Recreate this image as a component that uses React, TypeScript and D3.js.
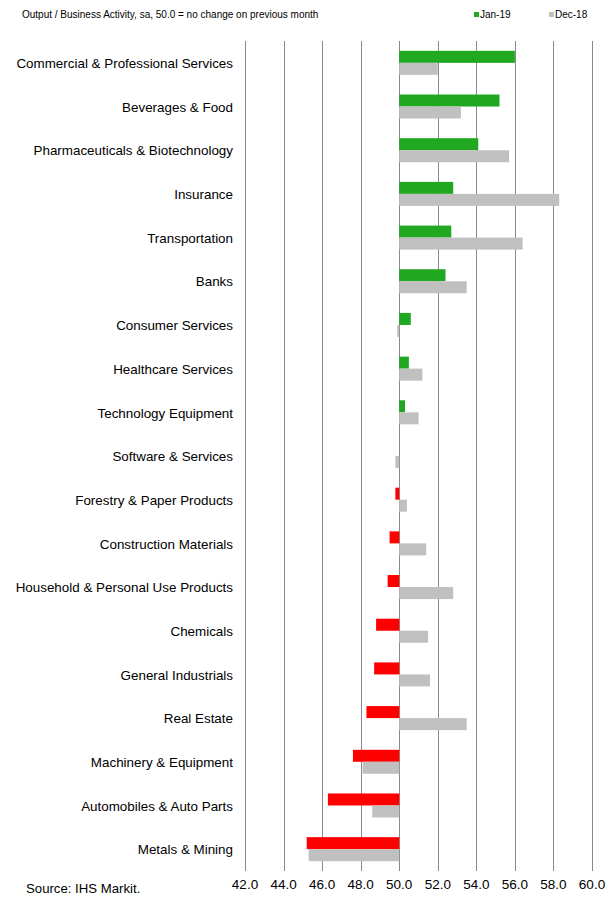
import { useEffect, useRef } from "react";
import * as d3 from "d3";

const categories = [
  "Commercial & Professional Services",
  "Beverages & Food",
  "Pharmaceuticals & Biotechnology",
  "Insurance",
  "Transportation",
  "Banks",
  "Consumer Services",
  "Healthcare Services",
  "Technology Equipment",
  "Software & Services",
  "Forestry & Paper Products",
  "Construction Materials",
  "Household & Personal Use Products",
  "Chemicals",
  "General Industrials",
  "Real Estate",
  "Machinery & Equipment",
  "Automobiles & Auto Parts",
  "Metals & Mining"
];

const jan19 = [56.0, 55.2, 54.1, 52.8, 52.7, 52.4, 50.6, 50.5, 50.3, 50.0, 49.8, 49.5, 49.4, 48.8, 48.7, 48.3, 47.6, 46.3, 45.2];
const dec18 = [52.0, 53.2, 55.7, 58.3, 56.4, 53.5, 49.9, 51.2, 51.0, 49.8, 50.4, 51.4, 52.8, 51.5, 51.6, 53.5, 48.1, 48.6, 45.3];

const xTicks = [42, 44, 46, 48, 50, 52, 54, 56, 58, 60];

const title = "Output / Business Activity, sa, 50.0 = no change on previous month";
const source = "Source: IHS Markit.";
const seriesNames = ["Jan-19", "Dec-18"];

const green = "#20a820";
const red = "#ff0000";
const grey = "#c0c0c0";
const font = "Arial, 'Liberation Sans', sans-serif";

export default function App() {
  const svgRef = useRef<SVGSVGElement>(null);

  useEffect(() => {
    const svg = d3.select(svgRef.current);
    svg.selectAll("*").remove();

    const width = 615;
    const height = 898;
    const margin = { top: 41, bottom: 27, left: 245, right: 23 };

    const x = d3.scaleLinear().domain([42, 60]).range([margin.left, width - margin.right]);
    const y = d3
      .scaleBand()
      .domain(categories)
      .range([margin.top, height - margin.bottom])
      .paddingInner(0.45)
      .paddingOuter(0.225);
    const sub = d3.scaleBand().domain(seriesNames).range([0, y.bandwidth()]);

    // grid
    svg
      .append("g")
      .attr("stroke", "#8a8a8a")
      .attr("stroke-width", 1)
      .selectAll("line")
      .data(xTicks)
      .join("line")
      .attr("x1", (d) => Math.round(x(d)) + 0.5)
      .attr("x2", (d) => Math.round(x(d)) + 0.5)
      .attr("y1", margin.top)
      .attr("y2", height - margin.bottom);

    // tick labels
    svg
      .append("g")
      .selectAll("text")
      .data(xTicks)
      .join("text")
      .attr("x", (d) => x(d))
      .attr("y", height - 9)
      .attr("text-anchor", "middle")
      .attr("font-family", font)
      .attr("font-size", 13.5)
      .attr("fill", "#000")
      .text((d) => d.toFixed(1));

    // bars
    const rows = categories.map((c, i) => ({ c, jan: jan19[i], dec: dec18[i] }));
    const g = svg.append("g");
    g.selectAll("rect.jan")
      .data(rows)
      .join("rect")
      .attr("class", "jan")
      .attr("x", (d) => x(Math.min(50, d.jan)))
      .attr("y", (d) => (y(d.c) ?? 0) + (sub("Jan-19") ?? 0))
      .attr("width", (d) => Math.abs(x(d.jan) - x(50)))
      .attr("height", sub.bandwidth())
      .attr("fill", (d) => (d.jan >= 50 ? green : red));
    g.selectAll("rect.dec")
      .data(rows)
      .join("rect")
      .attr("class", "dec")
      .attr("x", (d) => x(Math.min(50, d.dec)))
      .attr("y", (d) => (y(d.c) ?? 0) + (sub("Dec-18") ?? 0))
      .attr("width", (d) => Math.abs(x(d.dec) - x(50)))
      .attr("height", sub.bandwidth())
      .attr("fill", grey);

    // category labels
    svg
      .append("g")
      .selectAll("text")
      .data(categories)
      .join("text")
      .attr("x", 233)
      .attr("y", (d) => (y(d) ?? 0) + y.bandwidth() / 2 + 0.5)
      .attr("dy", "0.35em")
      .attr("text-anchor", "end")
      .attr("font-family", font)
      .attr("font-size", 13.4)
      .attr("fill", "#000")
      .text((d) => d);

    // title
    svg
      .append("text")
      .attr("x", 22)
      .attr("y", 18)
      .attr("font-family", font)
      .attr("font-size", 10)
      .attr("fill", "#000")
      .text(title);

    // legend
    const legend = svg.append("g").attr("font-family", font).attr("font-size", 10);
    [
      { name: seriesNames[0], color: green, x: 474 },
      { name: seriesNames[1], color: grey, x: 549 }
    ].forEach((l) => {
      legend.append("rect").attr("x", l.x).attr("y", 12).attr("width", 5).attr("height", 5).attr("fill", l.color);
      legend.append("text").attr("x", l.x + 6).attr("y", 18).attr("fill", "#000").text(l.name);
    });

    // source
    svg
      .append("text")
      .attr("x", 26)
      .attr("y", 893)
      .attr("font-family", font)
      .attr("font-size", 13.2)
      .attr("fill", "#000")
      .text(source);
  }, []);

  return (
    <svg
      ref={svgRef}
      width={615}
      height={898}
      style={{ position: "absolute", left: 0, top: 0, background: "#fff" }}
    />
  );
}
